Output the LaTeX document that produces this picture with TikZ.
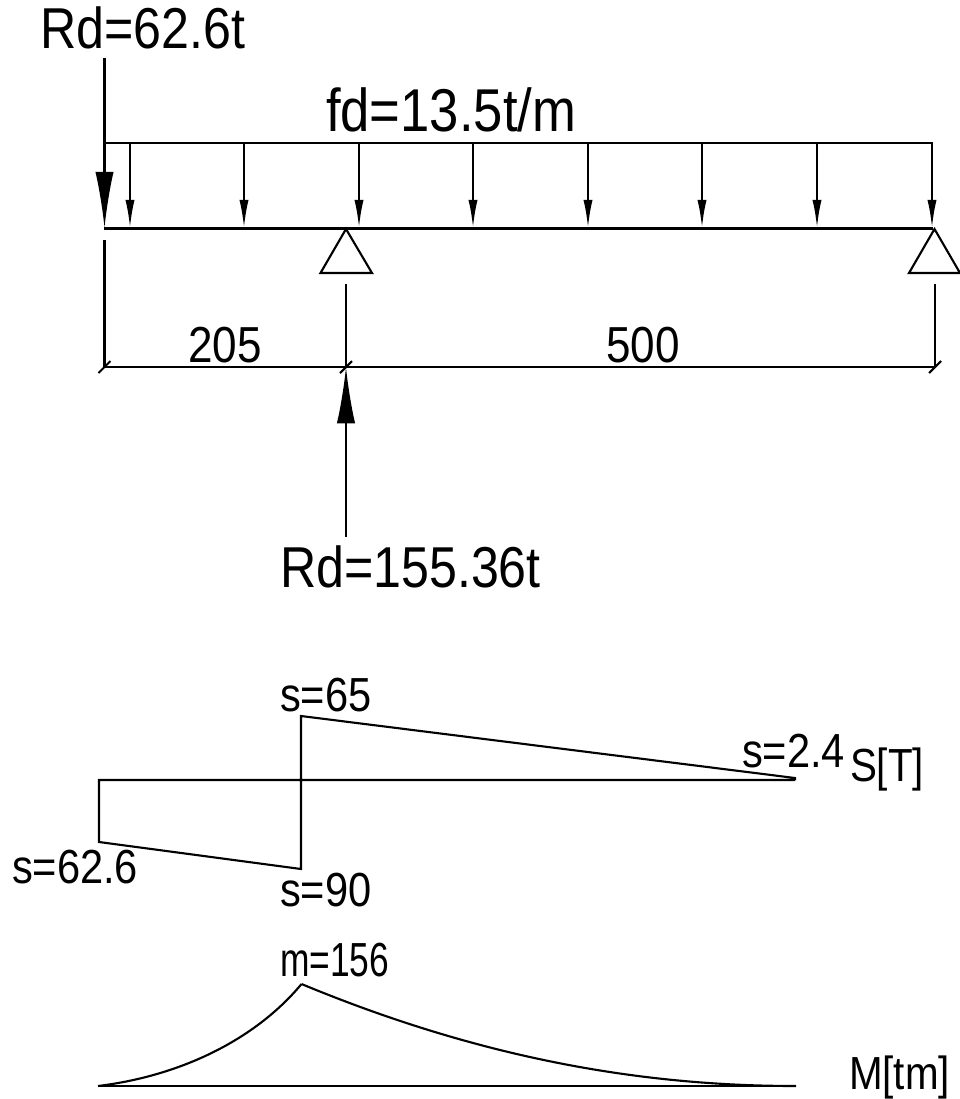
\documentclass[tikz,border=0pt]{standalone}
\usepackage{graphicx}
\usepackage{fontspec}
\setmainfont[FakeStretch=0.87]{Liberation Sans}
\usetikzlibrary{arrows.meta}
\begin{document}
\begin{tikzpicture}[
    x=0.025cm,
    y=-0.025cm,
    line width=1.5pt,
    biglabel/.style={anchor=west, inner sep=0pt, font=\fontsize{41}{44}\selectfont},
    fdlabel/.style={biglabel, font=\fontsize{43}{46}\selectfont},
    midlabel/.style={anchor=west, inner sep=0pt, font=\fontsize{34}{38}\selectfont},
    dimlabel/.style={midlabel, font=\fontsize{36}{40}\selectfont},
    smalllabel/.style={anchor=west, inner sep=0pt, font=\fontsize{33}{36}\selectfont},
    force/.style={-{Latex[length=40pt,width=13pt]}},
    load/.style={-{Latex[length=20pt,width=6.5pt]}},
    support/.style={draw, line join=miter}
]
\useasboundingbox (0,0) rectangle (960,1099);

% Beam and load
\coordinate (beamL) at (104,228.5);
\coordinate (beamR) at (933,228.5);
\coordinate (loadL) at (104,143);
\coordinate (loadR) at (933,143);
\draw (beamL) -- (beamR);
\draw (loadL) -- (loadR);
\foreach \px in {130,244,359,473,588,702,817,932}
    \draw[load] (\px,143) -- (\px,228);

% Reactions
\coordinate (topR) at (104.5,58);
\coordinate (topE) at (104.5,228);
\draw[force] (topR) -- (topE);
\coordinate (midR) at (346,537);
\coordinate (midE) at (346,367);
\draw[force] (midR) -- (midE);

% Supports
\coordinate (supA) at (346,229);
\coordinate (supB) at (934.5,229);
\draw[support] (supA) -- (320.5,273) -- (372,273) -- cycle;
\draw[support] (supB) -- (909,273) -- (960,273) -- cycle;

% Dimensions
\coordinate (dimL) at (104.5,367);
\coordinate (dimM) at (346,367);
\coordinate (dimR) at (935,367);
\coordinate (extL) at (104.5,240);
\coordinate (extM) at (346,284);
\coordinate (extR) at (935,284);
\draw (dimL) -- (dimR);
\draw (extL) -- (dimL);
\draw (extM) -- (dimM);
\draw (extR) -- (dimR);
\foreach \tick in {dimL,dimM,dimR}
    \draw ([shift={(-6,6)}]\tick) -- ([shift={(6,-6)}]\tick);

% Shear diagram
\coordinate (shearA) at (99,780);
\coordinate (shearB) at (795,780);
\coordinate (shearC) at (99,842);
\coordinate (shearD) at (301,869);
\coordinate (shearE) at (301,716);
\coordinate (shearF) at (795,778);
\draw (shearB) -- (shearA) -- (shearC) -- (shearD) -- (shearE) -- (shearF) -- (shearB);

% Moment diagram
\coordinate (momA) at (98,1086);
\coordinate (momB) at (796,1086);
\coordinate (momP) at (301.5,984);
\draw (momA) -- (momB);
\draw (momA) .. controls (180,1076) and (255,1040) .. (momP);
\draw (momP) .. controls (480,1058) and (640,1086) .. (momB);

% Labels
\node[biglabel] (rdtop) at (39,28) {Rd=62.6t};
\node[fdlabel] (fd) at (325,110) {fd=13.5t/m};
\node[biglabel] (rdmid) at (279,567) {Rd=155.36t};
\node[dimlabel] (dima) at (187,345) {205};
\node[dimlabel] (dimb) at (605,345) {500};
\node[midlabel] (sa) at (279,695) {s=65};
\node[midlabel] (sb) at (741,751) {s=2.4};
\node[midlabel] (sc) at (11,867) {s=62.6};
\node[midlabel] (sd) at (279,890) {s=90};
\node[midlabel] (ma) at (279,960) {\scalebox{0.85}[1]{m=156}};
\node[smalllabel] (st) at (849,769) {S[T]};
\node[smalllabel] (mt) at (848,1077) {M[tm]};

\end{tikzpicture}
\end{document}
